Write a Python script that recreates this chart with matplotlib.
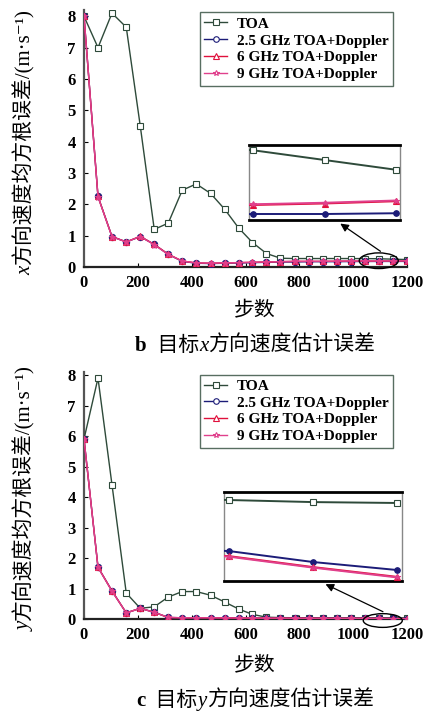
import matplotlib.pyplot as plt
import numpy as np
from matplotlib.patches import Ellipse

plt.rcParams['font.family'] = ['Liberation Serif', 'Noto Sans CJK SC', 'DejaVu Sans']

W, H = 424, 715

steps = [0, 52, 104, 157, 209, 261, 313, 365, 417, 470, 522, 574,
         626, 678, 730, 783, 835, 887, 939, 991, 1043, 1096, 1148, 1200]
series_names = ['TOA', '2.5 GHz TOA+Doppler', '6 GHz TOA+Doppler', '9 GHz TOA+Doppler']

# x direction velocity RMSE
vx_toa = [8.0, 7.0, 8.1, 7.65, 4.5, 1.2, 1.4, 2.45, 2.65, 2.35, 1.85, 1.25,
          0.78, 0.43, 0.28, 0.27, 0.27, 0.27, 0.27, 0.27, 0.268, 0.263, 0.25, 0.237]
vx_25 = [8.0, 2.25, 0.97, 0.8, 0.97, 0.72, 0.4, 0.18, 0.12, 0.11, 0.12, 0.13,
         0.14, 0.15, 0.16, 0.16, 0.17, 0.17, 0.17, 0.175, 0.176, 0.178, 0.178, 0.179]
vx_6 = [8.0, 2.25, 0.97, 0.8, 0.98, 0.72, 0.41, 0.19, 0.13, 0.12, 0.13, 0.14,
        0.15, 0.16, 0.17, 0.18, 0.18, 0.18, 0.185, 0.188, 0.19, 0.19, 0.192, 0.195]
vx_9 = [8.0, 2.24, 0.96, 0.8, 0.97, 0.71, 0.4, 0.19, 0.13, 0.12, 0.13, 0.14,
        0.15, 0.16, 0.17, 0.18, 0.18, 0.181, 0.186, 0.189, 0.191, 0.191, 0.193, 0.196]

# y direction velocity RMSE
vy_toa = [5.9, 7.9, 4.4, 0.85, 0.35, 0.4, 0.72, 0.9, 0.9, 0.78, 0.56, 0.33,
          0.15, 0.06, 0.045, 0.042, 0.04, 0.04, 0.039, 0.038, 0.038, 0.0373, 0.0366, 0.0363]
vy_25 = [5.9, 1.7, 0.92, 0.2, 0.35, 0.22, 0.05, 0.04, 0.04, 0.04, 0.035, 0.033,
         0.03, 0.028, 0.027, 0.026, 0.025, 0.024, 0.023, 0.022, 0.021, 0.0201, 0.0164, 0.0137]
vy_6 = [5.9, 1.7, 0.92, 0.2, 0.35, 0.22, 0.05, 0.04, 0.04, 0.04, 0.035, 0.032,
        0.029, 0.027, 0.026, 0.025, 0.024, 0.023, 0.022, 0.021, 0.02, 0.0184, 0.0147, 0.0114]
vy_9 = [5.9, 1.69, 0.91, 0.2, 0.35, 0.22, 0.05, 0.04, 0.04, 0.04, 0.035, 0.032,
        0.029, 0.027, 0.026, 0.025, 0.024, 0.023, 0.022, 0.021, 0.02, 0.0182, 0.0145, 0.0112]

colors = ['#2e4a3a', '#1c1c78', '#e0103c', '#e0408c']
markers = ['s', 'o', '^', '*']


def rich_text(parts, cx, cy, size, rotation=0):
    # lay out (text, style, weight) pieces one after another, centred on (cx, cy) px
    r = fig.canvas.get_renderer()
    objs, lengths = [], []
    for s, st, wt in parts:
        t = fig.text(0, 0, s, fontsize=size, style=st, weight=wt,
                     rotation=rotation, rotation_mode='anchor',
                     ha='left', va='baseline')
        bb = t.get_window_extent(r)
        objs.append(t)
        lengths.append(bb.height if rotation else bb.width)
    pos = -sum(lengths) / 2
    for t, ln in zip(objs, lengths):
        if rotation:
            t.set_position((cx / W, (H - cy + pos) / H))
        else:
            t.set_position(((cx + pos) / W, (H - cy) / H))
        pos += ln


def draw_lines(ax, data, ms=4.5, lw=1.0):
    for i, (vals, c, m) in enumerate(zip(data, colors, markers)):
        face = 'white' if i == 0 else c
        ax.plot(steps, vals, color=c, marker=m, ms=ms, lw=lw,
                mfc=face, mec=c, mew=0.8, label=series_names[i],
                zorder=3 + i)


def main_panel(rect, data, ymax):
    ax = fig.add_axes(rect)
    draw_lines(ax, data)
    ax.set_xlim(0, 1200)
    ax.set_ylim(0, ymax)
    ax.set_xticks(range(0, 1201, 200))
    ax.set_yticks(range(0, 9))
    ax.spines['top'].set_visible(False)
    ax.spines['right'].set_visible(False)
    ax.spines['left'].set_color('#555555')
    ax.spines['bottom'].set_color('#222222')
    ax.spines['left'].set_linewidth(1.6)
    ax.spines['bottom'].set_linewidth(1.6)
    ax.tick_params(direction='in', length=3, labelsize=12, pad=6)
    for t in ax.get_xticklabels() + ax.get_yticklabels():
        t.set_fontweight('bold')
    leg = ax.legend(loc='upper right', bbox_to_anchor=(0.98, 1.02),
                    frameon=True, fancybox=False,
                    handlelength=1.5, handletextpad=0.6,
                    borderpad=0.3, labelspacing=0.2,
                    prop={'weight': 'bold', 'size': 11})
    leg.get_frame().set_edgecolor('#2e4a3a')
    leg.get_frame().set_linewidth(1.0)
    for line in leg.get_lines():
        line.set_markerfacecolor('white')
        line.set_markersize(4)
    return ax


def inset_panel(rect, data, ylim):
    ins = fig.add_axes(rect)
    draw_lines(ins, data, ms=4, lw=1.4)
    ins.set_xlim(1093, 1203)
    ins.set_ylim(*ylim)
    ins.set_xticks([])
    ins.set_yticks([])
    for s in ['top', 'bottom']:
        ins.spines[s].set_linewidth(2.0)
        ins.spines[s].set_color('black')
    for s in ['left', 'right']:
        ins.spines[s].set_linewidth(1.0)
        ins.spines[s].set_color('#888888')
    return ins


fig = plt.figure(figsize=(W / 100, H / 100), dpi=100)

# upper panel: x velocity
ax1 = main_panel([84 / W, (H - 267) / H, 323 / W, 257 / H],
                 [vx_toa, vx_25, vx_6, vx_9], 8.2)
inset_panel([249 / W, (H - 220) / H, 151 / W, 75 / H],
            [vx_toa, vx_25, vx_6, vx_9], (0.17, 0.27))
ax1.add_patch(Ellipse((1095, 0.2), 145, 0.5, fill=False, ec='black', lw=1.0,
                      zorder=10, clip_on=False))
ax1.annotate('', xy=(338 / W, (H - 222) / H), xycoords='figure fraction',
             xytext=(1110, 0.45), textcoords='data',
             arrowprops=dict(arrowstyle='-|>', color='black', lw=0.9,
                             mutation_scale=12))
rich_text([('x', 'italic', 'normal'), ('方向速度均方根误差/(m·s⁻¹)', 'normal', 'normal')],
          30, 142, 15, rotation=90)
fig.text(255 / W, (H - 312) / H, '步数', ha='center', va='center', fontsize=15)
rich_text([('b', 'normal', 'bold'), ('  目标', 'normal', 'normal'),
           ('x', 'italic', 'normal'), ('方向速度估计误差', 'normal', 'normal')],
          255, 351, 15)

# lower panel: y velocity
ax2 = main_panel([84 / W, (H - 619) / H, 323 / W, 247 / H],
                 [vy_toa, vy_25, vy_6, vy_9], 8.1)
inset_panel([224 / W, (H - 581) / H, 178 / W, 89 / H],
            [vy_toa, vy_25, vy_6, vy_9], (0.010, 0.040))
ax2.add_patch(Ellipse((1110, -0.05), 145, 0.45, fill=False, ec='black', lw=1.0,
                      zorder=10, clip_on=False))
ax2.annotate('', xy=(323 / W, (H - 583) / H), xycoords='figure fraction',
             xytext=(1120, 0.2), textcoords='data',
             arrowprops=dict(arrowstyle='-|>', color='black', lw=0.9,
                             mutation_scale=12))
rich_text([('y', 'italic', 'normal'), ('方向速度均方根误差/(m·s⁻¹)', 'normal', 'normal')],
          30, 498, 15, rotation=90)
fig.text(255 / W, (H - 667) / H, '步数', ha='center', va='center', fontsize=15)
rich_text([('c', 'normal', 'bold'), ('  目标', 'normal', 'normal'),
           ('y', 'italic', 'normal'), ('方向速度估计误差', 'normal', 'normal')],
          255, 706, 15)

fig.savefig('out.png', dpi=100)
